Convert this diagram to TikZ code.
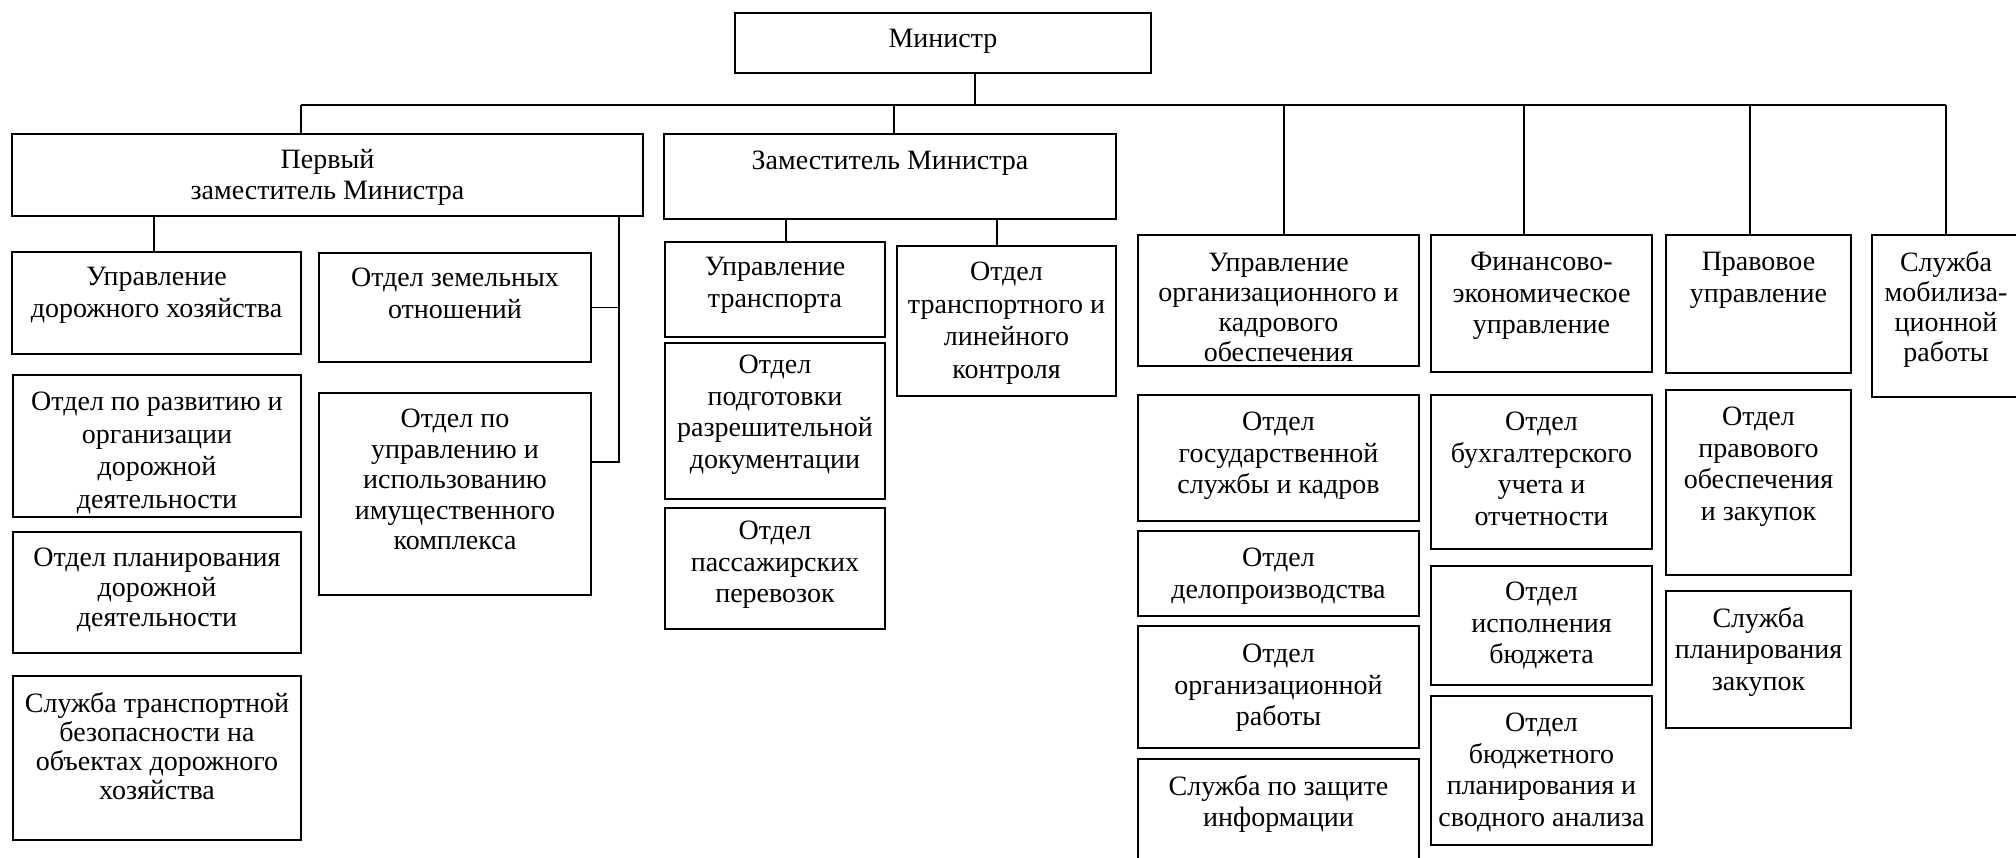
\documentclass[tikz,border=0pt]{standalone}
\usepackage{fontspec}
\setmainfont{Liberation Serif}
\newcommand\bx[8][]{%
  \node[box, minimum width={#5-#3}, minimum height={#6-#4}] (#2) at (#3,#4) {};
  \node[txt, #1, yshift={-(#7)}] (#2t) at (#2.north) {#8};}
\begin{document}
\begin{tikzpicture}[x=1pt,y=-1pt,
  box/.style={draw, line width=2.2pt, inner sep=0pt, outer sep=0pt, anchor=north west},
  txt/.style={font=\fontsize{28}{31.5}\selectfont, align=center, inner sep=0pt, anchor=north},
  lead/.style={font=\fontsize{28}{#1}\selectfont},
  ln/.style={line width=1.8pt}]
\useasboundingbox (0,0) rectangle (2016,858);
\begin{scope}
\clip (0,0) rectangle (2016,858);
\bx{min}{735}{13}{1151}{73}{16}{Министр}
\bx{perv}{12}{134}{643}{216}{15}{Первый\\заместитель Министра}
\bx{zam}{664}{134}{1116}{219}{17}{Заместитель Министра}
\bx{a1}{12}{252}{301}{354}{15}{Управление\\дорожного хозяйства}
\bx[lead=32.5]{a2}{13}{375}{301}{517}{17}{Отдел по развитию и\\организации\\дорожной\\деятельности}
\bx[lead=30]{a3}{13}{532}{301}{653}{16}{Отдел планирования\\дорожной\\деятельности}
\bx[lead=29]{a4}{13}{676}{301}{840}{16}{Служба транспортной\\безопасности на\\объектах дорожного\\хозяйства}
\bx{b1}{319}{253}{591}{362}{15}{Отдел земельных\\отношений}
\bx[lead=30.5]{b2}{319}{393}{591}{595}{16}{Отдел по\\управлению и\\использованию\\имущественного\\комплекса}
\bx{c1}{665}{242}{885}{337}{15}{Управление\\транспорта}
\bx{c2}{665}{343}{885}{499}{12}{Отдел\\подготовки\\разрешительной\\документации}
\bx{c3}{665}{508}{885}{629}{13}{Отдел\\пассажирских\\перевозок}
\bx[lead=32.5]{d1}{897}{246}{1116}{396}{16}{Отдел\\транспортного и\\линейного\\контроля}
\bx[lead=30]{e1}{1138}{235}{1419}{366}{18}{Управление\\организационного и\\кадрового\\обеспечения}
\bx{e2}{1138}{395}{1419}{521}{17}{Отдел\\государственной\\службы и кадров}
\bx{e3}{1138}{531}{1419}{616}{17}{Отдел\\делопроизводства}
\bx{e4}{1138}{626}{1419}{748}{18}{Отдел\\организационной\\работы}
\bx{e5}{1138}{759}{1419}{866}{16}{Служба по защите\\информации}
\bx{f1}{1431}{235}{1652}{372}{17}{Финансово-\\экономическое\\управление}
\bx{f2}{1431}{395}{1652}{549}{17}{Отдел\\бухгалтерского\\учета и\\отчетности}
\bx{f3}{1431}{566}{1652}{685}{16}{Отдел\\исполнения\\бюджета}
\bx{f4}{1431}{696}{1652}{845}{17}{Отдел\\бюджетного\\планирования и\\сводного анализа}
\bx{g1}{1666}{235}{1851}{373}{17}{Правовое\\управление}
\bx{g2}{1666}{390}{1851}{575}{17}{Отдел\\правового\\обеспечения\\и закупок}
\bx{g3}{1666}{591}{1851}{728}{16}{Служба\\планирования\\закупок}
\bx[lead=30]{h1}{1872}{235}{2020}{397}{16}{Служба\\мобилиза-\\ционной\\работы}
% connectors
\coordinate (busL) at (301,105);
\coordinate (busR) at (1946,105);
\coordinate (m0) at (975,105);
\coordinate (k2) at (894,105);
\coordinate (k3) at (1284,105);
\coordinate (k4) at (1524,105);
\coordinate (k5) at (1750,105);
\coordinate (p1) at (154,0);
\coordinate (p2) at (619,0);
\coordinate (s2) at (619,462);
\coordinate (z1) at (786,0);
\coordinate (z2) at (997,0);
\draw[ln] (busL) -- (busR);
\draw[ln] (m0 |- min.south) -- (m0);
\draw[ln] (busL) -- (busL |- perv.north);
\draw[ln] (k2) -- (k2 |- zam.north);
\draw[ln] (k3) -- (k3 |- e1.north);
\draw[ln] (k4) -- (k4 |- f1.north);
\draw[ln] (k5) -- (k5 |- g1.north);
\draw[ln] (busR) -- (busR |- h1.north);
\draw[ln] (p1 |- perv.south) -- (p1 |- a1.north);
\draw[ln] (p2 |- perv.south) -- (s2) -- (s2 -| b2.east);
\draw[ln] (b1.east) -- (b1.east -| p2);
\draw[ln] (z1 |- zam.south) -- (z1 |- c1.north);
\draw[ln] (z2 |- zam.south) -- (z2 |- d1.north);
\end{scope}
\end{tikzpicture}
\end{document}
